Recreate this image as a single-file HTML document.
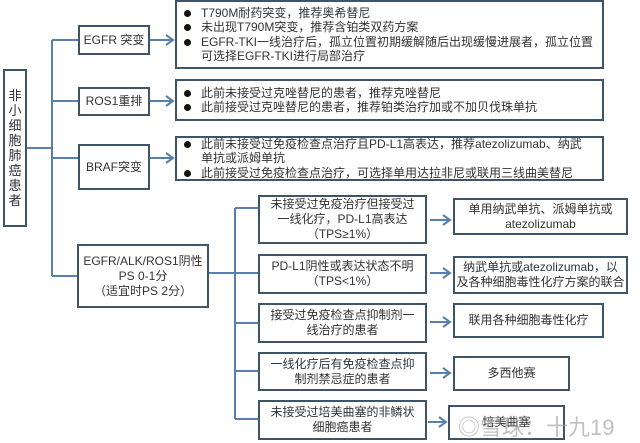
<!DOCTYPE html>
<html><head><meta charset="utf-8"><style>
body{margin:0;width:640px;height:443px;background:#fff;position:relative;overflow:hidden;font-family:"Liberation Sans","Noto Sans CJK SC",sans-serif;color:#333;font-size:12px}
.b{position:absolute;box-sizing:border-box;border:2px solid #3f5566;background:#fff;display:flex;align-items:center;justify-content:center;text-align:center;line-height:15px}
.l{position:absolute;background:#5780ad}
.r{justify-content:flex-start;text-align:left}
ul{margin:0;padding:0 0 0 24px;list-style:none}
li{position:relative;line-height:14.5px}
li:before{content:"";position:absolute;left:-17px;top:4px;width:7px;height:7px;border-radius:50%;background:#111}
</style></head><body>
<svg width="640" height="443" style="position:absolute;left:0;top:0">
<g stroke="#5780ad" stroke-width="2" fill="none">
<path d="M27 148H52M52 40V276M52 40H78M52 101H78M52 158H78M52 276H77M209 273H235M235 208V419M235 208H258M235 273H258M235 323H258M235 371H258M235 419H258"/>
<path d="M150 40H172M150 101H172M150 158H172M430 220H449M430 273H449M430 322H449M430 373H449M428 422H445"/>
<path d="M166 35L173 40L166 45M166 96L173 101L166 106M166 153L173 158L166 163M443 215L450 220L443 225M443 268L450 273L443 278M443 317L450 322L443 327M443 368L450 373L443 378M439 417L446 422L439 427"/>
</g></svg>
<div class="b" style="left:3px;top:69px;width:24px;height:158px;font-size:13px;line-height:15px">非<br>小<br>细<br>胞<br>肺<br>癌<br>患<br>者</div>
<div class="b" style="left:78px;top:25px;width:72px;height:30px">EGFR 突变</div>
<div class="b" style="left:78px;top:87px;width:72px;height:29px">ROS1重排</div>
<div class="b" style="left:78px;top:144px;width:72px;height:46px">BRAF突变</div>
<div class="b" style="left:77px;top:244px;width:132px;height:64px">EGFR/ALK/ROS1阴性<br>PS 0-1分<br>（适宜时PS 2分）</div>
<div class="b r" style="left:175px;top:0;width:429px;height:69px"><ul><li>T790M耐药突变，推荐奥希替尼</li><li>未出现T790M突变，推荐含铂类双药方案</li><li>EGFR-TKI一线治疗后，孤立位置初期缓解随后出现缓慢进展者，孤立位置<br>可选择EGFR-TKI进行局部治疗</li></ul></div>
<div class="b r" style="left:175px;top:79px;width:429px;height:42px"><ul><li>此前未接受过克唑替尼的患者，推荐克唑替尼</li><li>此前接受过克唑替尼的患者，推荐铂类治疗加或不加贝伐珠单抗</li></ul></div>
<div class="b r" style="left:175px;top:136px;width:429px;height:45px"><ul><li>此前未接受过免疫检查点治疗且PD-L1高表达，推荐atezolizumab、纳武<br>单抗或派姆单抗</li><li>此前接受过免疫检查点治疗，可选择单用达拉非尼或联用三线曲美替尼</li></ul></div>
<div class="b" style="left:258px;top:195px;width:169px;height:49px">未接受过免疫治疗但接受过<br>一线化疗，PD-L1高表达<br>（TPS≥1%）</div>
<div class="b" style="left:258px;top:254px;width:169px;height:40px">PD-L1阴性或表达状态不明<br>（TPS&lt;1%）</div>
<div class="b" style="left:258px;top:303px;width:169px;height:40px">接受过免疫检查点抑制剂一<br>线治疗的患者</div>
<div class="b" style="left:258px;top:352px;width:169px;height:39px">一线化疗后有免疫检查点抑<br>制剂禁忌症的患者</div>
<div class="b" style="left:258px;top:400px;width:169px;height:40px">未接受过培美曲塞的非鳞状<br>细胞癌患者</div>
<div class="b" style="left:453px;top:198px;width:175px;height:37px">单用纳武单抗、派姆单抗或<br>atezolizumab</div>
<div class="b" style="left:453px;top:256px;width:175px;height:38px">纳武单抗或atezolizumab，以<br>及各种细胞毒性化疗方案的联合</div>
<div class="b" style="left:453px;top:303px;width:151px;height:35px">联用各种细胞毒性化疗</div>
<div class="b" style="left:453px;top:356px;width:117px;height:35px">多西他赛</div>
<div class="b" style="left:448px;top:405px;width:117px;height:35px">培美曲塞</div>
<div style="position:absolute;left:458px;top:410px;font-size:22px;color:rgba(150,150,150,0.6)">◎雪球：十九19</div>
</body></html>
